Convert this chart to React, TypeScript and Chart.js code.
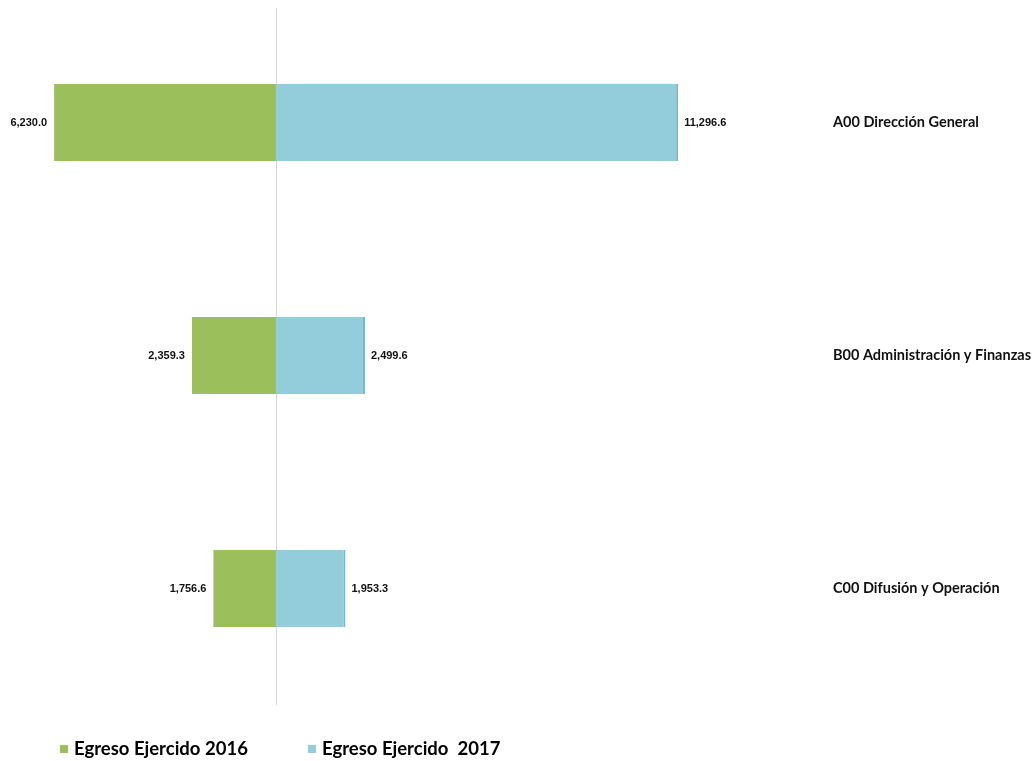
import React, { useEffect, useRef } from "react";
import { Chart, registerables } from "chart.js";

Chart.register(...registerables);

const categories = [
  "A00 Dirección General",
  "B00 Administración y Finanzas",
  "C00 Difusión y Operación",
];
const egreso2016 = [6230.0, 2359.3, 1756.6];
const egreso2017 = [11296.6, 2499.6, 1953.3];
const seriesLabels = ["Egreso Ejercido 2016", "Egreso Ejercido  2017"];
const seriesColors = ["#9bbf5a", "#93cddc"];

const fmt = (v: number) =>
  Math.abs(v).toLocaleString("en-US", { minimumFractionDigits: 1, maximumFractionDigits: 1 });

const zeroLinePlugin = {
  id: "zeroLine",
  beforeDatasetsDraw(chart: any) {
    const { ctx, chartArea, scales } = chart;
    const x = Math.round(scales.x.getPixelForValue(0)) + 0.5;
    ctx.save();
    ctx.strokeStyle = "#d6d6d6";
    ctx.lineWidth = 1;
    ctx.beginPath();
    ctx.moveTo(x, chartArea.top + 2);
    ctx.lineTo(x, chartArea.bottom);
    ctx.stroke();
    ctx.restore();
  },
};

const valueLabelPlugin = {
  id: "valueLabels",
  afterDatasetsDraw(chart: any) {
    const ctx = chart.ctx;
    ctx.save();
    ctx.font = "bold 11px 'Liberation Sans Narrow', 'Liberation Sans', Arial, sans-serif";
    ctx.fillStyle = "#111";
    ctx.textBaseline = "middle";
    chart.data.datasets.forEach((ds: any, di: number) => {
      const meta = chart.getDatasetMeta(di);
      meta.data.forEach((el: any, i: number) => {
        const v = ds.data[i];
        const left = Math.min(el.x, el.base);
        const right = Math.max(el.x, el.base);
        if (v < 0) {
          ctx.textAlign = "right";
          ctx.fillText(fmt(v), left - 7, el.y);
        } else {
          ctx.textAlign = "left";
          ctx.fillText(fmt(v), right + 6, el.y);
        }
      });
    });
    ctx.restore();
  },
};

const legendPlugin = {
  id: "customLegend",
  afterDraw(chart: any) {
    const ctx = chart.ctx;
    ctx.save();
    ctx.font = "bold 18.5px Lato, 'Open Sans', sans-serif";
    ctx.textBaseline = "middle";
    const positions = [60, 308];
    const y = 749;
    chart.data.datasets.forEach((ds: any, di: number) => {
      const x = positions[di];
      ctx.fillStyle = ds.backgroundColor;
      ctx.fillRect(x, y - 4, 8, 8);
      ctx.fillStyle = "#000";
      ctx.textAlign = "left";
      ctx.fillText(ds.label, x + 14, y);
    });
    ctx.restore();
  },
};

export default function App() {
  const ref = useRef<HTMLCanvasElement | null>(null);
  useEffect(() => {
    if (!ref.current) return;
    const chart = new Chart(ref.current, {
      type: "bar",
      data: {
        labels: categories,
        datasets: [
          {
            label: seriesLabels[0],
            data: egreso2016.map((v) => -v),
            backgroundColor: seriesColors[0],
            borderColor: "#86a84a",
            borderWidth: 0,
            categoryPercentage: 1,
            barPercentage: 0.33,
          },
          {
            label: seriesLabels[1],
            data: egreso2017,
            backgroundColor: seriesColors[1],
            borderColor: "#7fb3c2",
            borderWidth: { top: 0, bottom: 0, left: 0, right: 2 },
            categoryPercentage: 1,
            barPercentage: 0.33,
          },
        ],
      },
      options: {
        indexAxis: "y",
        animation: false,
        responsive: true,
        maintainAspectRatio: false,
        layout: { padding: { top: 6, bottom: 56, left: 0, right: 0 } },
        plugins: {
          legend: { display: false },
          tooltip: { enabled: false },
        },
        scales: {
          x: {
            stacked: true,
            min: -7750,
            max: 15420,
            display: false,
            afterFit: (s: any) => {
              s.height = 0;
            },
          },
          y: {
            stacked: true,
            position: "right",
            border: { display: false },
            grid: { display: false, drawTicks: false },
            ticks: {
              crossAlign: "near",
              padding: 8,
              color: "#111",
              font: { family: "Lato, 'Open Sans', sans-serif", weight: "bold", size: 14.5 },
            },
            afterFit: (s: any) => {
              s.width = 209;
              s.paddingTop = 0;
              s.paddingBottom = 0;
            },
          },
        },
      },
      plugins: [zeroLinePlugin, valueLabelPlugin, legendPlugin],
    });
    return () => chart.destroy();
  }, []);
  return (
    <div style={{ position: "fixed", left: 0, top: 0, width: 1034, height: 761, background: "#fff" }}>
      <canvas ref={ref} />
    </div>
  );
}
